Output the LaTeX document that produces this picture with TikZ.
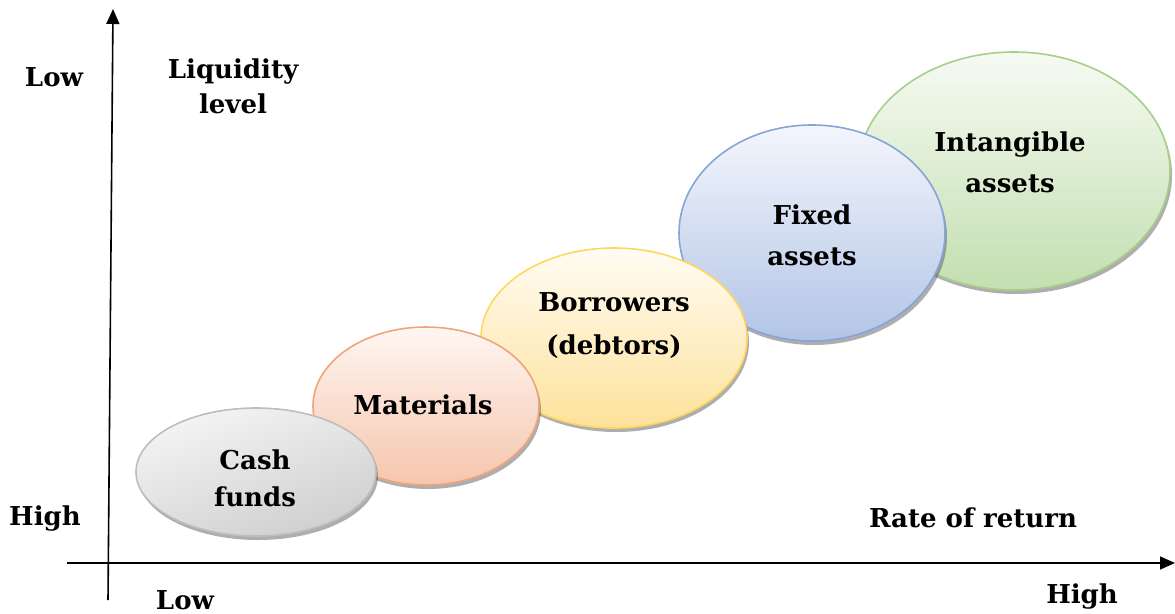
\documentclass[tikz,border=0pt]{standalone}
\usepackage{fontspec}
\setmainfont{DejaVu Serif}
\usetikzlibrary{shapes.geometric,shadows,arrows.meta}

% fill and rim colours of the five asset bubbles
\definecolor{cashTop}{HTML}{F4F4F4}\definecolor{cashBot}{HTML}{CFCFCF}\definecolor{cashRim}{HTML}{BDBDBD}
\definecolor{matTop}{HTML}{FEF6F2}\definecolor{matBot}{HTML}{F6C6AC}\definecolor{matRim}{HTML}{F0A47E}
\definecolor{borTop}{HTML}{FFFCF4}\definecolor{borBot}{HTML}{FEE29A}\definecolor{borRim}{HTML}{FFD75E}
\definecolor{fixTop}{HTML}{F4F6FC}\definecolor{fixBot}{HTML}{B2C4E6}\definecolor{fixRim}{HTML}{86A4D8}
\definecolor{intTop}{HTML}{F6FAF3}\definecolor{intBot}{HTML}{C3DFB0}\definecolor{intRim}{HTML}{A6CF8A}

\tikzset{
  lbl/.style={font=\bfseries\fontsize{26}{#1}\selectfont, align=center, inner sep=0pt},
  lbl/.default=35,
  bubble/.style={ellipse, draw=#1Rim, line width=1.6pt, top color=#1Top, bottom color=#1Bot,
    drop shadow={shadow xshift=2pt, shadow yshift=-4pt, opacity=0.45, fill=black!70},
    inner sep=0pt},
  axis/.style={line width=1.6pt, -{Triangle[width=13pt,length=15pt]}}
}

\begin{document}
\begin{tikzpicture}[x=1pt, y=-1pt]
  \useasboundingbox (0,0) rectangle (1175,613);

  % axes
  \coordinate (yfoot) at (108,600);
  \coordinate (ytip) at (113,9);
  \coordinate (xfoot) at (67,563);
  \coordinate (xtip) at (1175,563);
  \draw[axis] (yfoot) -- (ytip);
  \draw[axis] (xfoot) -- (xtip);

  % bubbles, from the back to the front
  \node[bubble=int, minimum width=312pt, minimum height=238pt] (intang) at (1014,171) {};
  \node[bubble=fix, minimum width=266pt, minimum height=216pt] (fixed) at (812,233) {};
  \node[bubble=bor, minimum width=266pt, minimum height=180pt] (borrow) at (614,338) {};
  \node[bubble=mat, minimum width=226pt, minimum height=158pt] (mater) at (426,406) {};
  \node[bubble=cash, minimum width=240pt, minimum height=128pt, shading angle=20] (cash) at (256,472) {};

  % bubble captions
  \node[lbl=41] (intangT) at (1010,162) {Intangible\\assets};
  \node[lbl=41] (fixedT) at (812,235) {Fixed\\assets};
  \node[lbl=43] (borrowT) at (614,326) {Borrowers\\(debtors)};
  \node[lbl] (materT) at (423,405) {Materials};
  \node[lbl=37] (cashT) at (255,478) {Cash\\funds};

  % axis captions
  \node[lbl] (lowY) at (54,77) {Low};
  \node[lbl] (liq) at (233,86) {Liquidity\\level};
  \node[lbl] (highY) at (45,519) {High};
  \node[lbl] (lowX) at (185,600) {Low};
  \node[lbl] (rate) at (973,518) {Rate of return};
  \node[lbl] (highX) at (1082,597) {High};
\end{tikzpicture}
\end{document}
